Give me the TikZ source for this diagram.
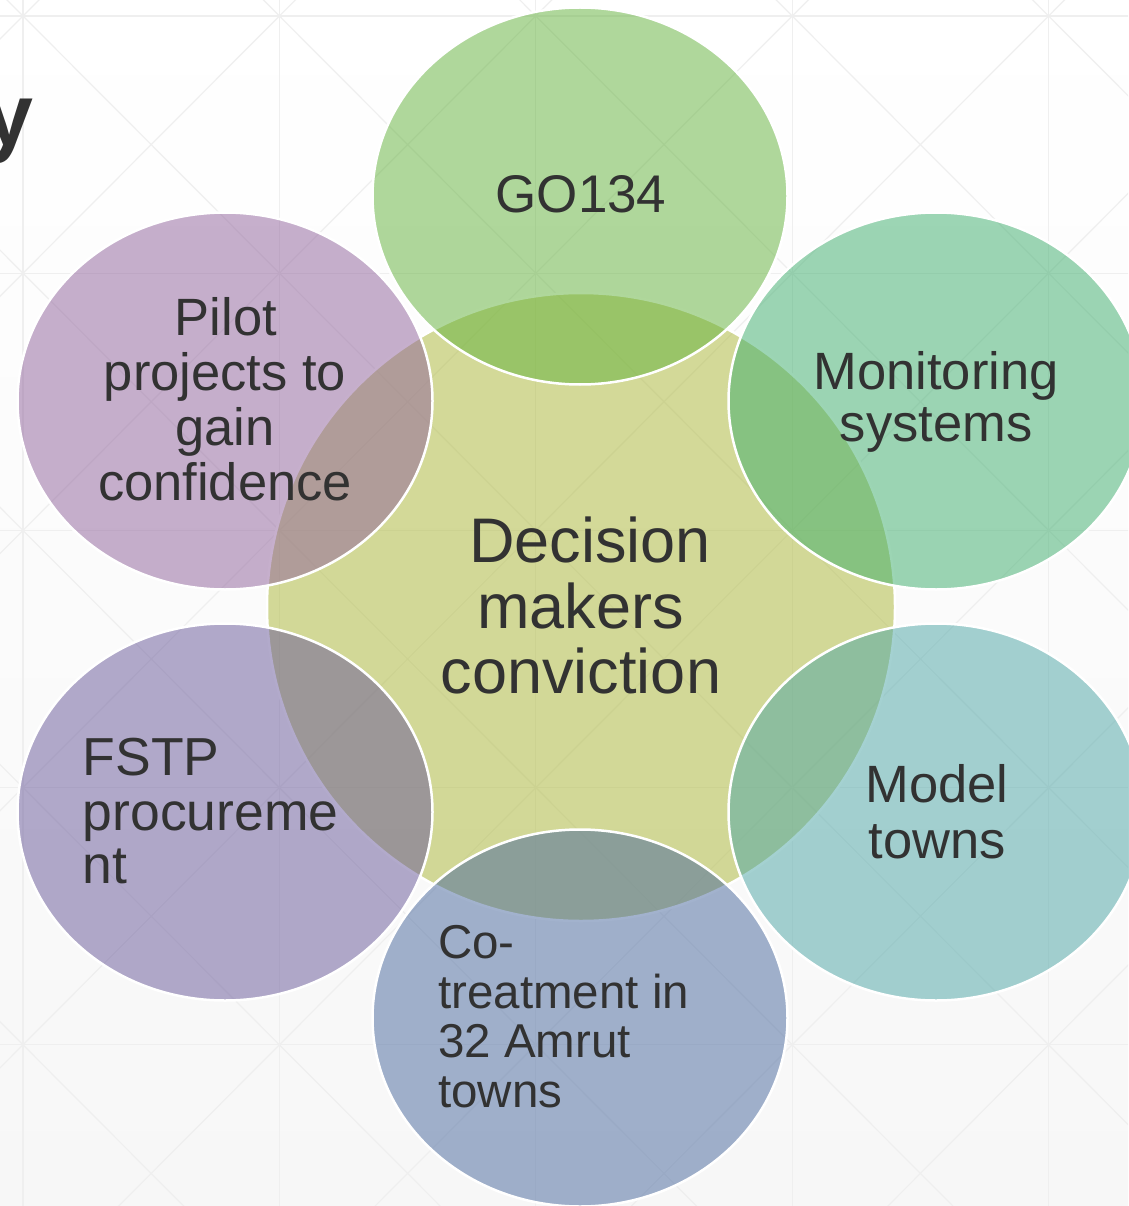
\documentclass[tikz,border=0pt]{standalone}
\usepackage{fontspec}
\setmainfont{Liberation Sans}
\usetikzlibrary{shapes.geometric}
\definecolor{bgbot}{RGB}{247,247,247}
\definecolor{gridc}{RGB}{239,239,239}
\definecolor{txt}{RGB}{50,50,50}
\definecolor{cCenter}{RGB}{171,183,53}
\definecolor{cGO}{RGB}{97,177,57}
\definecolor{cPilot}{RGB}{143,97,155}
\definecolor{cMon}{RGB}{59,173,107}
\definecolor{cModel}{RGB}{75,165,165}
\definecolor{cCo}{RGB}{71,103,157}
\definecolor{cFSTP}{RGB}{103,87,153}
\tikzset{
  gridline/.style={draw=gridc, line width=1.2pt},
  petal/.style={ellipse, inner sep=0pt, minimum width=415pt, minimum height=377pt,
    draw=white, line width=2.5pt, fill opacity=0.5},
  hub/.style={ellipse, inner sep=0pt, minimum width=628pt, minimum height=628pt,
    draw=white, line width=2.5pt, fill=cCenter, fill opacity=0.5},
  lbl/.style={font=\fontsize{52.5}{55}\selectfont, text=txt, inner sep=0pt, anchor=base},
  lblL/.style={lbl, anchor=base west, font=\fontsize{53.5}{55}\selectfont},
  lblS/.style={lblL, font=\fontsize{47.5}{50}\selectfont},
  lblC/.style={lbl, font=\fontsize{63}{65}\selectfont},
}
\begin{document}
\begin{tikzpicture}[x=1pt, y=-1pt]
\useasboundingbox (0,0) rectangle (1128,1206);
\fill[top color=white, bottom color=bgbot] (0,0) rectangle (1128,1206);
% grid
\begin{scope}
\clip (0,0) rectangle (1128,1206);
\foreach \i in {-1,...,4}{
  \foreach \j in {-1,...,4}{
    \pgfmathsetmacro\xa{23+256.4*\i}
    \pgfmathsetmacro\xb{23+256.4*(\i+1)}
    \pgfmathsetmacro\ya{16+257.2*\j}
    \pgfmathsetmacro\yb{16+257.2*(\j+1)}
    \draw[gridline] (\xa,\ya) -- (\xb,\yb);
    \draw[gridline] (\xa,\yb) -- (\xb,\ya);
    \draw[gridline] (\xa,\ya) -- (\xa,\yb);
    \draw[gridline] (\xa,\ya) -- (\xb,\ya);
  }
}
\end{scope}
% title fragment
\node[font=\bfseries\fontsize{88}{90}\selectfont, text=txt, inner sep=0pt, anchor=base east] (title) at (34,146) {y};
% shapes
\node[hub] (center) at (581,607) {};
\node[petal, fill=cGO] (go) at (580,196) {};
\node[petal, fill=cMon] (mon) at (936,401) {};
\node[petal, fill=cModel] (model) at (936,812) {};
\node[petal, fill=cCo] (co) at (580,1018) {};
\node[petal, fill=cFSTP] (fstp) at (225,812) {};
\node[petal, fill=cPilot] (pilot) at (225,401) {};
% labels
\node[lbl, font=\fontsize{53}{55}\selectfont] (tgo) at (581,213) {GO134};
\node[lblC] (tc1) at (590,562) {Decision};
\node[lblC] (tc2) at (580.5,628) {makers};
\node[lblC] (tc3) at (581,693) {conviction};
\node[lbl] (tp1) at (226,335) {Pilot};
\node[lbl] (tp2) at (225,390) {projects to};
\node[lbl] (tp3) at (225,445) {gain};
\node[lbl] (tp4) at (225,500) {confidence};
\node[lbl] (tm1) at (936,389) {Monitoring};
\node[lbl] (tm2) at (936,441) {systems};
\node[lbl] (tt1) at (937,802) {Model};
\node[lbl] (tt2) at (937,858) {towns};
\node[lblL] (tf1) at (82.5,775) {FSTP};
\node[lblL] (tf2) at (82.5,830) {procureme};
\node[lblL] (tf3) at (82.5,883) {nt};
\node[lblS] (ts1) at (438,958) {Co-};
\node[lblS] (ts2) at (438,1008) {treatment in};
\node[lblS] (ts3) at (438,1057) {32 Amrut};
\node[lblS] (ts4) at (438,1107) {towns};
\end{tikzpicture}
\end{document}
